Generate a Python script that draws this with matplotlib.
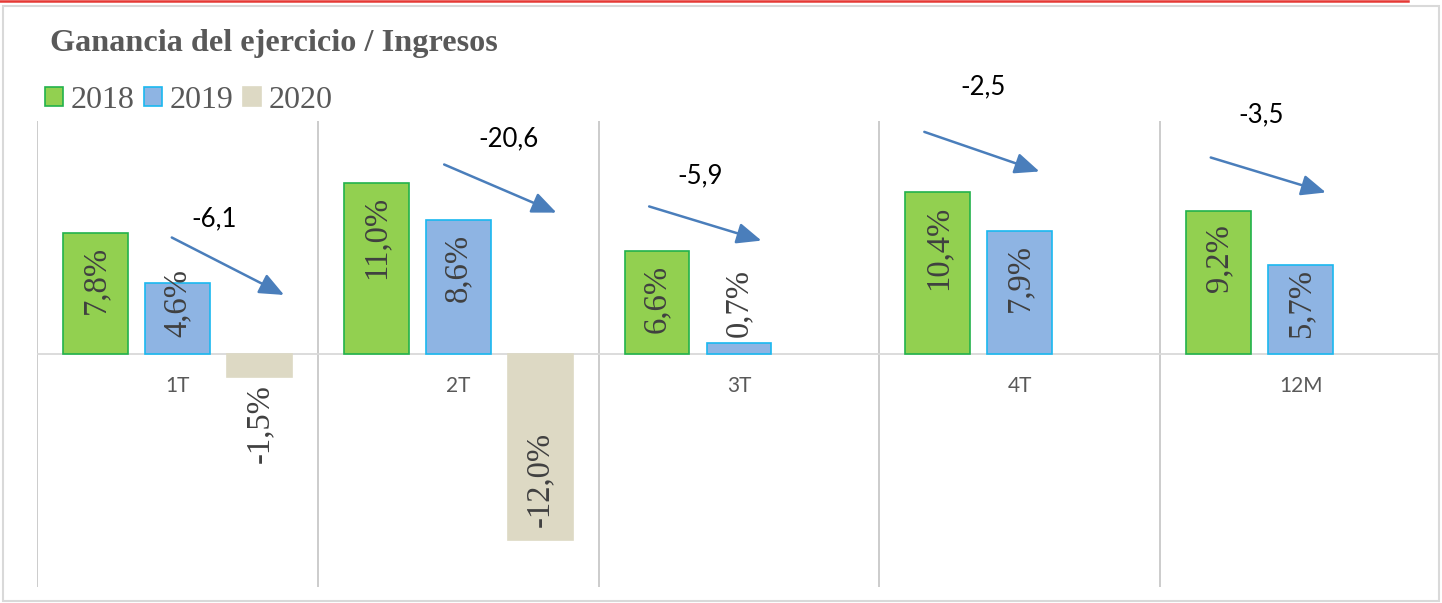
import numpy as np
import matplotlib
matplotlib.use("Agg")
import matplotlib.pyplot as plt
from matplotlib.patches import Rectangle, Patch
from matplotlib.lines import Line2D
from matplotlib.transforms import offset_copy

# ---- data -------------------------------------------------------------
categories = ["1T", "2T", "3T", "4T", "12M"]
years = ["2018", "2019", "2020"]
v2018 = [7.8, 11.0, 6.6, 10.4, 9.2]
v2019 = [4.6, 8.6, 0.7, 7.9, 5.7]
v2020 = [-1.5, -12.0, np.nan, np.nan, np.nan]

title = "Ganancia del ejercicio / Ingresos"

# trend arrows: placement relative to each category centre (x) and value axis (y)
arrow_start_dx = [-0.02, -0.05, -0.32, -0.34, -0.32]
arrow_start_y = [7.5, 12.2, 9.5, 14.3, 12.65]
arrow_end_dx = [0.38, 0.35, 0.08, 0.07, 0.09]
arrow_end_y = [3.8, 9.1, 7.3, 11.75, 10.4]
note_dx = [0.13, 0.18, -0.14, -0.13, -0.14]
note_y = [8.7, 13.85, 11.5, 17.2, 15.4]

# ---- style ------------------------------------------------------------
face = ["#92D050", "#8EB4E3", "#DDD9C4"]
edge = ["#22B24C", "#1AB8F0", "#DDD9C4"]
serif = "Liberation Serif"
sans = "Lato"
grey_txt = "#595959"
label_txt = "#404040"
arrow_col = "#4A7EBB"

W, H = 1442, 603
fig = plt.figure(figsize=(W / 100, H / 100), dpi=100)
fig.patch.set_facecolor("white")

ax = fig.add_axes([37 / W, 1 - 587 / H, 1404 / W, 466 / H])
ax.set_xlim(-0.5, len(categories) - 0.5)
ax.set_ylim(-15, 15)
ax.axis("off")

x = np.arange(len(categories))
width = 0.231
offsets = [-0.292, 0.0, 0.292]
series = [v2018, v2019, v2020]

# category separators and zero line
for b in np.arange(-0.5, len(categories) - 1, 1.0):
    ax.axvline(b, color="#C8C8C8", lw=1.3, zorder=1)
ax.axhline(0, color="#D9D9D9", lw=1.3, zorder=1, xmax=1402 / 1404)

for vals, off, fc, ec in zip(series, offsets, face, edge):
    ax.bar(x + off, vals, width=width, color=fc, edgecolor=ec,
           linewidth=1.2, zorder=2)

# rotated value labels inside the bars
fig.canvas.draw()
renderer = fig.canvas.get_renderer()
ppu = ax.transData.transform((0, 1))[1] - ax.transData.transform((0, 0))[1]
end_pad = 13 / ppu
base_pad_pos = 17 / ppu
base_pad_neg = 30 / ppu
for vals, off in zip(series, offsets):
    for xi, v in zip(x, vals):
        if np.isnan(v):
            continue
        txt = f"{v:.1f}%".replace(".", ",")
        t = ax.text(xi + off, 0, txt, rotation=90, rotation_mode="anchor",
                    ha="left", va="center", fontfamily=serif, fontsize=23.5,
                    color=label_txt, zorder=3)
        L = t.get_window_extent(renderer).height / ppu
        if v >= 0:
            start = max(v - end_pad, base_pad_pos + L) - L
        else:
            start = min(v + end_pad, -base_pad_neg - L)
        t.set_y(start)

# category labels just under the zero line
cat_tr = offset_copy(ax.transData, fig=fig, x=0, y=-32, units="dots")
for xi, c in zip(x, categories):
    ax.text(xi, 0, c, transform=cat_tr, ha="center", va="center",
            fontfamily=sans, fontsize=15, color=grey_txt)

# change arrows with their annotations
for i in range(len(categories)):
    a, b = (v2019[i], v2020[i]) if not np.isnan(v2020[i]) else (v2018[i], v2019[i])
    diff = round(b - a, 1)
    ax.annotate("", xy=(x[i] + arrow_end_dx[i], arrow_end_y[i]),
                xytext=(x[i] + arrow_start_dx[i], arrow_start_y[i]),
                arrowprops=dict(arrowstyle="-|>,head_length=0.75,head_width=0.32",
                                color=arrow_col, lw=1.8, shrinkA=0, shrinkB=0,
                                mutation_scale=20),
                annotation_clip=False, zorder=4)
    ax.text(x[i] + note_dx[i], note_y[i], f"{diff:.1f}".replace(".", ","),
            ha="center", va="center", fontfamily=sans, fontsize=18.5,
            color="black", clip_on=False)

# title and legend
fig.text(50 / W, 1 - 43 / H, title, fontfamily=serif, fontweight="bold",
         fontsize=23.2, color=grey_txt, va="center", ha="left")
handles = [Patch(facecolor=fc, edgecolor=ec, lw=1.2) for fc, ec in zip(face, edge)]
fig.legend(handles, years, loc="center left", bbox_to_anchor=(45 / W, 1 - 100 / H),
           ncol=3, frameon=False, prop=dict(family=serif, size=23),
           handlelength=0.55, handleheight=0.55, handletextpad=0.25,
           columnspacing=0.3, borderpad=0, borderaxespad=0, labelcolor=grey_txt)

# frame and top rule
fig.patches.append(Rectangle((3 / W, 2 / H), 1436 / W, 595 / H,
                             transform=fig.transFigure, fill=False,
                             edgecolor="#D9D9D9", lw=1.5))
fig.lines.append(Line2D([0, 1408 / W], [1 - 1 / H, 1 - 1 / H],
                        transform=fig.transFigure, color="#E53935", lw=1.8))

fig.savefig("out.png", dpi=100)
